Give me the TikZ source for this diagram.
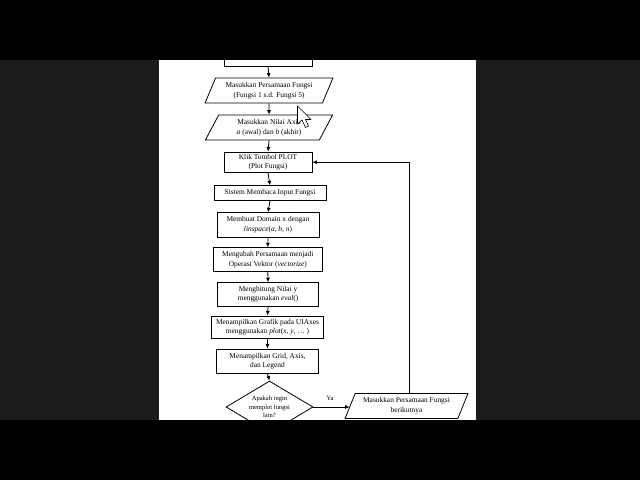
\documentclass[tikz,border=0pt]{standalone}
\usepackage{fontspec}
\setmainfont{Liberation Serif}
\usetikzlibrary{shapes.geometric,arrows.meta}
\newcommand{\fsz}{\fontsize{7.4}{9.6}\selectfont}
\newcommand{\fsm}{\fontsize{6.5}{8.3}\selectfont}
\definecolor{sidegray}{HTML}{1C1C1C}
\tikzset{
  proc/.style={draw, rectangle, line width=0.8pt, fill=white, align=center, inner sep=0pt, font=\fsz},
  io/.style={draw, trapezium, trapezium left angle=62.5, trapezium right angle=117.5,
    trapezium stretches=true, line width=0.8pt, fill=white, align=center, inner sep=0pt, font=\fsz,
    minimum width=128, minimum height=25},
  decision/.style={draw, diamond, shape aspect=1.67, line width=0.8pt, fill=white, align=center,
    inner sep=0pt, font=\fsm, minimum width=87, minimum height=52},
  arr/.style={line width=0.8pt, -{Latex[length=4.5pt,width=4pt]}},
}
\begin{document}
\begin{tikzpicture}[x=1pt,y=-1pt]
\useasboundingbox (0,0) rectangle (640,480);
\fill[sidegray] (0,0) rectangle (640,480);
\fill[white] (159,60) rectangle (476,420);

\node[proc, minimum width=88, minimum height=18] (plot) at (268,57) {Plot Grafik};
\node[io] (p1) at (269,90.5) {Masukkan Persamaan Fungsi\\(Fungsi 1 s.d. Fungsi 5)};
\node[io] (p2) at (269,127.5) {Masukkan Nilai Axis\\\textit{a} (awal) dan \textit{b} (akhir)};
\node[proc, minimum width=88, minimum height=20.5] (klik) at (268,162.2) {Klik Tombol PLOT\\(Plot Fungsi)};
\node[proc, minimum width=112, minimum height=14.5] (sistem) at (270,193) {Sistem Membaca Input Fungsi};
\node[proc, minimum width=102, minimum height=24.5] (domain) at (268,225) {Membuat Domain x dengan\\\textit{linspace}(\textit{a}, \textit{b}, \textit{n})};
\node[proc, minimum width=109, minimum height=24] (ubah) at (267.8,259.7) {Mengubah Persamaan menjadi\\Operasi Vektor (\textit{vectorize})};
\node[proc, minimum width=101.5, minimum height=23.3] (hitung) at (268.1,294.3) {Menghitung Nilai y\\menggunakan \textit{eval}()};
\node[proc, minimum width=111.5, minimum height=22.3] (grafik) at (267.5,327.1) {Menampilkan Grafik pada UIAxes\\menggunakan \textit{plot}(\textit{x}, \textit{y}, \ldots\ )};
\node[proc, minimum width=101.5, minimum height=24.5] (grid) at (267.5,361.3) {Menampilkan Grid, Axis,\\dan Legend};
\node[decision] (dec) at (269.5,407) {Apakah ingin\\memplot fungsi\\lain?};
\node[io, minimum width=123] (p3) at (406.5,406) {Masukkan Persamaan Fungsi\\berikutnya};
\node[font=\fsm] (ya) at (330,398.5) {Ya};

\draw[arr] (plot.south) -- (p1.north);
\draw[arr] (p1.south) -- (p2.north);
\draw[arr] (p2.south) -- (klik.north);
\draw[arr] (klik.south) -- (sistem.north);
\draw[arr] (sistem.south) -- (domain.north);
\draw[arr] (domain.south) -- (ubah.north);
\draw[arr] (ubah.south) -- (hitung.north);
\draw[arr] (hitung.south) -- (grafik.north);
\draw[arr] (grafik.south) -- (grid.north);
\draw[arr] (grid.south) -- (dec.north);
\draw[arr] (dec.east) -- (dec.east -| p3.west);
\draw[arr] ([xshift=2.5pt]p3.north) |- (klik.east);

% mouse cursor
\draw[fill=white, line width=0.6pt, line join=round] (297.5,106) -- ++(0,18) -- ++(4.5,-4) -- ++(3.5,7.5) -- ++(3,-1.5) -- ++(-3,-6.5) -- ++(5.5,0) -- cycle;

% letterbox bands
\fill[black] (0,0) rectangle (640,60);
\fill[black] (0,420) rectangle (640,480);
\end{tikzpicture}
\end{document}
